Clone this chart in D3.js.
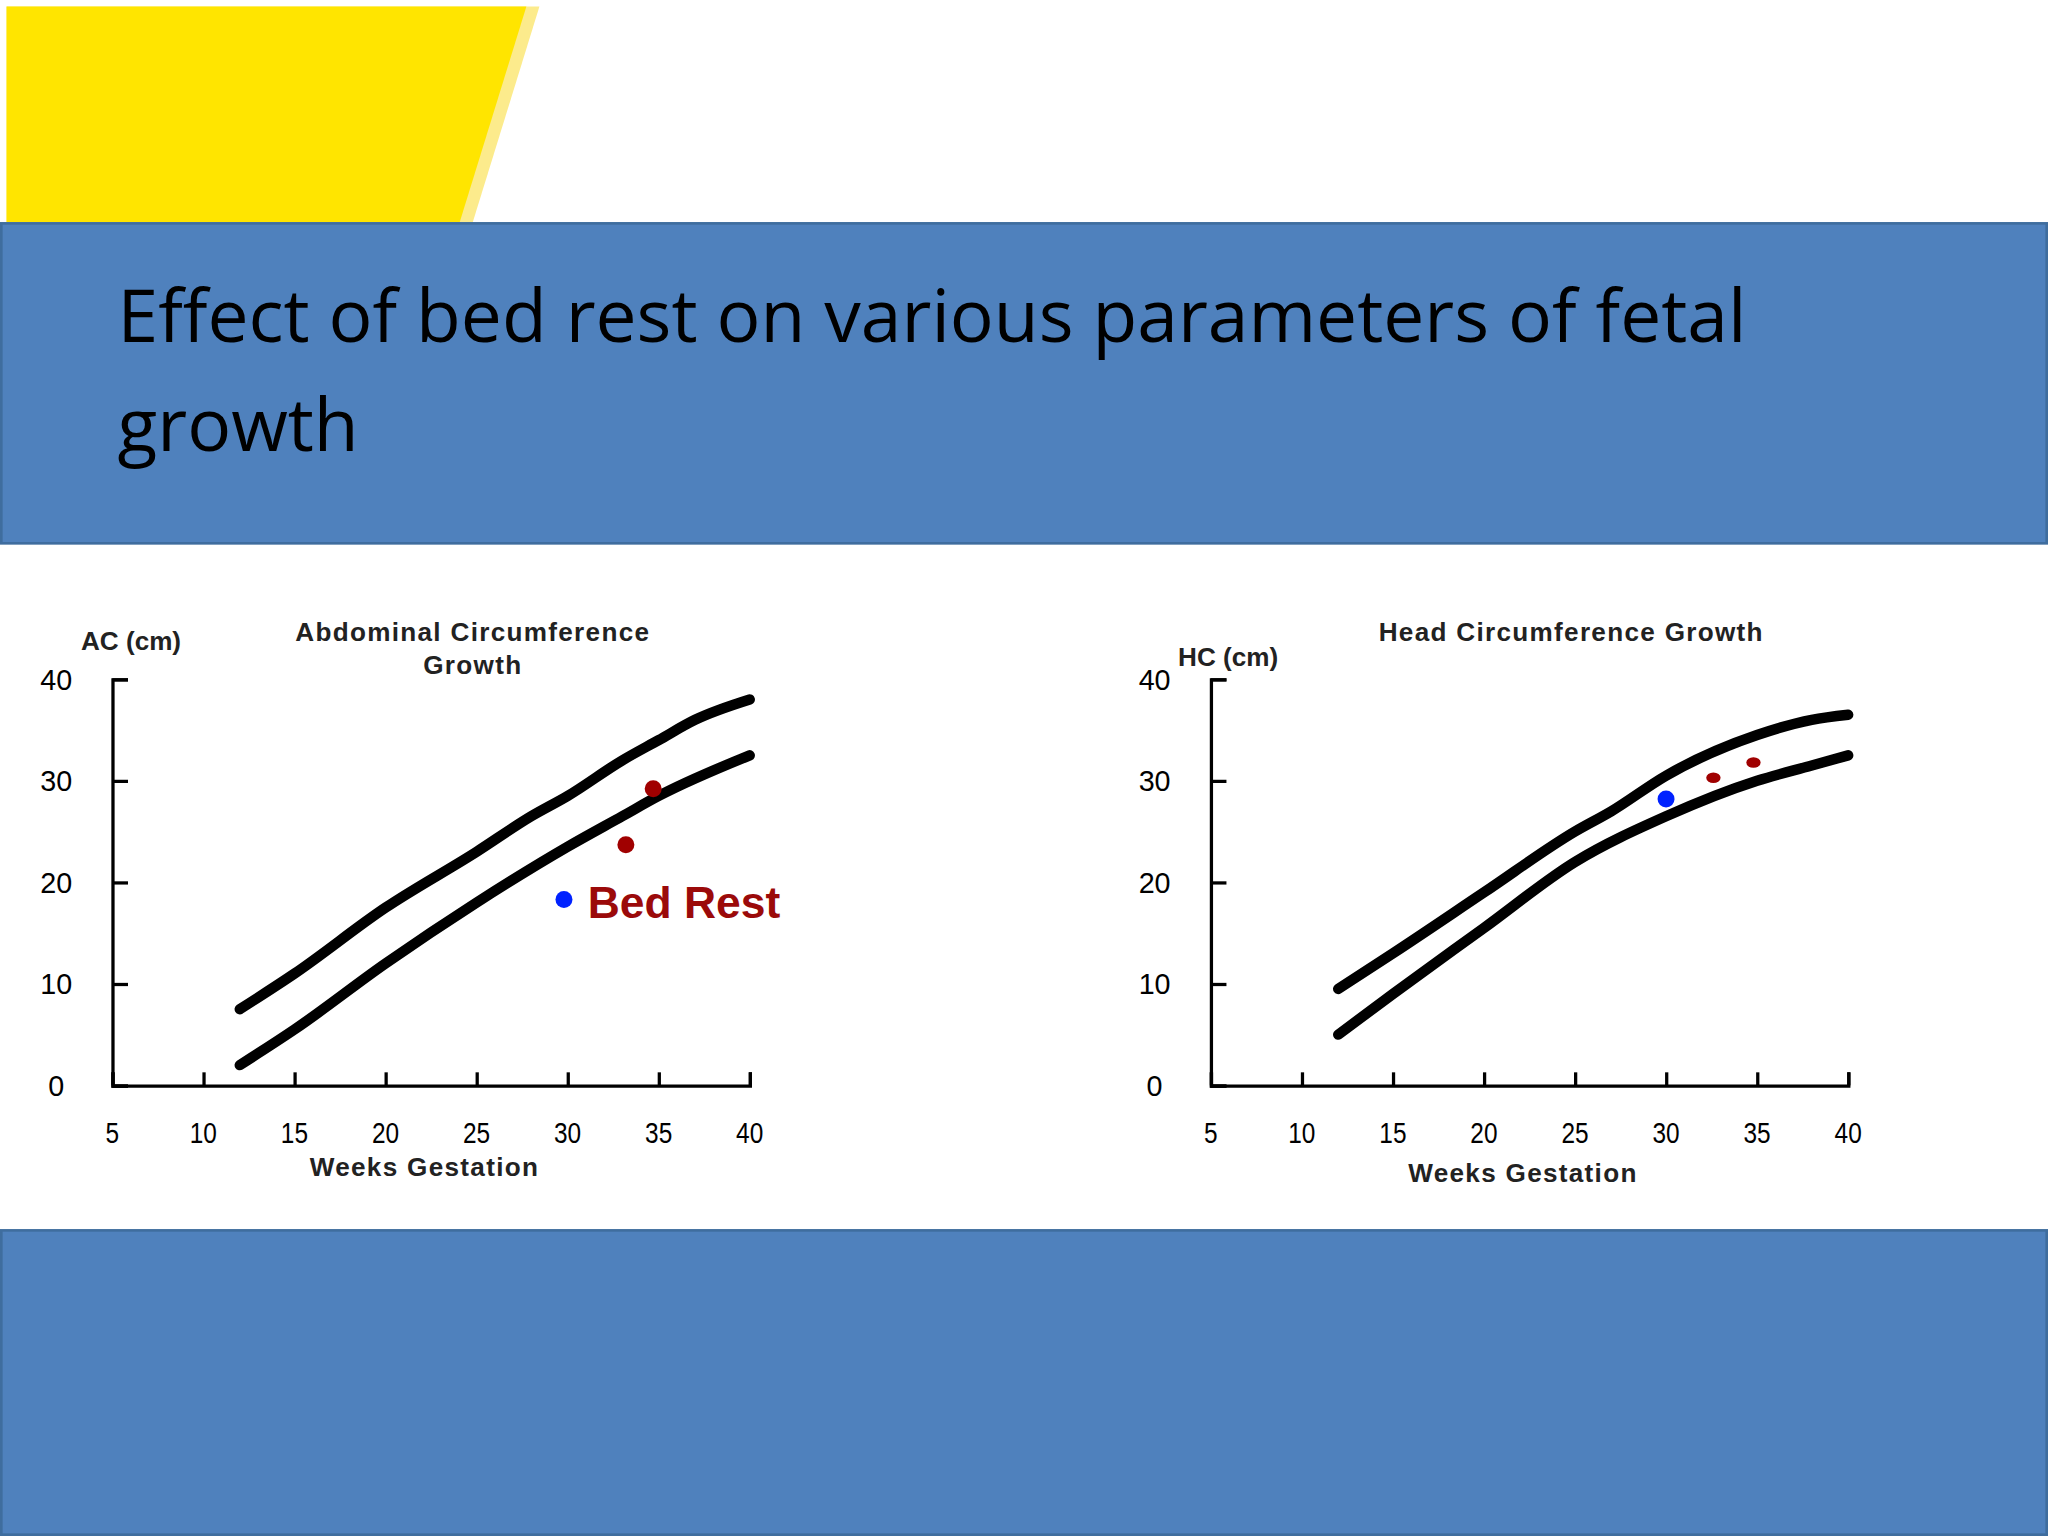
<!DOCTYPE html><html><head><meta charset="utf-8"><script src="https://cdn.jsdelivr.net/npm/d3@7"></script>
<style>body{margin:0;background:#fff}</style></head><body><svg id="s" width="2048" height="1536" viewBox="0 0 1568 1176"></svg>
<script>
const xTicks=[5,10,15,20,25,30,35,40];
const yTicks=[0,10,20,30,40];
const acUpper=[[12,7.5],[15,11],[20,17.5],[25,23],[28,26.5],[30,28.5],[33,32],[35,34],[37,36],[40,38]];
const acLower=[[12,2],[15,5.5],[20,12],[25,18],[30,23.5],[33,26.5],[35,28.5],[40,32.5]];
const acRed=[[34.7,29.2],[33.2,23.7]];
const acBlue=[[29.8,18.3]];
const hcUpper=[[12,9.5],[15,13],[20,19],[25,25],[27,27],[30,30.5],[35,34.5],[38,36],[40,36.5]];
const hcLower=[[12,5],[15,9],[20,15.5],[25,22],[30,26.5],[35,30],[38,31.5],[40,32.5]];
const hcRed=[[32.6,30.3],[34.8,31.8]];
const hcBlue=[[30,28.2]];
const svg=d3.select("#s");
svg.append("polygon").attr("points","5,5 413,5 362,170 5,170").attr("fill","#FCEB8C");
svg.append("polygon").attr("points","5,5 403,5 352,170 5,170").attr("fill","#FFE500");
svg.append("rect").attr("x",1).attr("y",171).attr("width",1566).attr("height",245).attr("fill","#4F81BD").attr("stroke","#3F6D9E").attr("stroke-width",2);
svg.append("rect").attr("x",1).attr("y",942).attr("width",1566).attr("height",233).attr("fill","#4F81BD").attr("stroke","#3F6D9E").attr("stroke-width",2);
const t=svg.append("text").attr("font-family","Open Sans, sans-serif").attr("font-size",56).attr("fill","#000");
t.append("tspan").attr("x",90).attr("y",262).text("Effect of bed rest on various parameters of fetal");
t.append("tspan").attr("x",90).attr("y",345).text("growth");
function chart(x0,x1,up,lo,red,blue,ylab,ylx,yly,title,tx,ty,redR,xlabY){
  const x=d3.scaleLinear().domain([5,40]).range([x0,x1]);
  const y=d3.scaleLinear().domain([0,40]).range([831,520]);
  const g=svg.append("g").attr("font-family","Liberation Sans, Arial, sans-serif");
  const xa=g.append("g").attr("transform","translate(0,831)").call(d3.axisBottom(x).tickValues(xTicks).tickSize(-10).tickFormat(""));
  const ya=g.append("g").attr("transform",`translate(${x0},0)`).call(d3.axisLeft(y).tickValues(yTicks).tickSize(-12).tickFormat(""));
  [xa,ya].forEach(a=>{a.selectAll("path").attr("stroke","#000").attr("stroke-width",2.5);a.selectAll("line").attr("stroke","#000").attr("stroke-width",2.5);});
  xTicks.forEach(v=>g.append("text").attr("x",x(v)).attr("y",875).attr("text-anchor","middle").attr("font-size",22).attr("transform",`translate(${x(v)},0) scale(0.85,1) translate(${-x(v)},0)`).text(v));
  yTicks.forEach(v=>g.append("text").attr("x",x0-43).attr("y",y(v)+8).attr("text-anchor","middle").attr("font-size",22).text(v));
  const ln=d3.line().x(d=>x(d[0])).y(d=>y(d[1])).curve(d3.curveMonotoneX);
  [up,lo].forEach(d=>g.append("path").attr("d",ln(d)).attr("fill","none").attr("stroke","#000").attr("stroke-width",8).attr("stroke-linecap","round"));
  red.forEach(d=>g.append("ellipse").attr("cx",x(d[0])).attr("cy",y(d[1])).attr("rx",redR[0]).attr("ry",redR[1]).attr("fill","#A00000"));
  blue.forEach(d=>g.append("circle").attr("cx",x(d[0])).attr("cy",y(d[1])).attr("r",6.5).attr("fill","#0022FF"));
  g.append("text").attr("x",ylx).attr("y",yly).attr("font-size",20).attr("font-weight","bold").attr("fill","#222").text(ylab);
  title.forEach((s,i)=>g.append("text").attr("x",tx).attr("y",ty+i*25).attr("text-anchor","middle").attr("font-size",20).attr("font-weight","bold").attr("letter-spacing",1).attr("fill","#222").text(s));
  g.append("text").attr("x",(x0+x1)/2-5).attr("y",xlabY).attr("text-anchor","middle").attr("font-size",20).attr("font-weight","bold").attr("letter-spacing",1).attr("fill","#222").text("Weeks Gestation");
  return {x,y,g};
}
const a=chart(86,574,acUpper,acLower,acRed,acBlue,"AC (cm)",62,498,["Abdominal Circumference","Growth"],362,491,[6.5,6.5],900);
a.g.append("text").attr("x",450).attr("y",703).attr("font-size",34).attr("font-weight","bold").attr("fill","#9B0A0A").text("Bed Rest");
chart(927,1415,hcUpper,hcLower,hcRed,hcBlue,"HC (cm)",902,510,["Head Circumference Growth"],1203,491,[5.5,4],905);
</script></body></html>
